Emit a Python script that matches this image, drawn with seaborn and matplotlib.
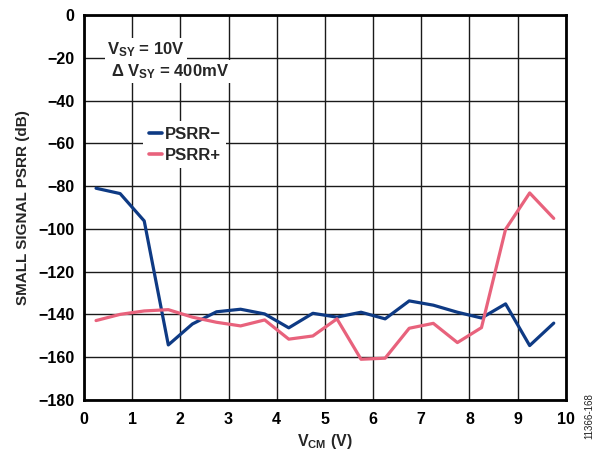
import matplotlib
matplotlib.use("Agg")
import matplotlib.pyplot as plt
import seaborn as sns
import pandas as pd

# Common-mode voltage sweep (V)
vcm = [0.25, 0.75, 1.25, 1.75, 2.25, 2.75, 3.25, 3.75, 4.25, 4.75,
       5.25, 5.75, 6.25, 6.75, 7.25, 7.75, 8.25, 8.75, 9.25, 9.75]

# Small-signal PSRR (dB)
psrr_minus = [-81.0, -83.5, -96.3, -154.3, -144.5, -138.8, -137.6, -139.8, -146.3, -139.5,
              -141.3, -139.0, -142.1, -133.7, -135.7, -139.0, -141.7, -135.1, -154.6, -144.1]
psrr_plus = [-142.9, -140.0, -138.4, -137.8, -141.3, -143.7, -145.4, -142.6, -151.6, -150.1,
             -142.1, -161.0, -160.5, -146.5, -144.2, -153.2, -146.2, -100.2, -83.2, -95.1]

series_names = ["PSRR\u2212", "PSRR+"]
series_colors = ["#0e3a84", "#e8627c"]

x_ticks = list(range(0, 11))
y_ticks = list(range(-180, 1, 20))

df = pd.DataFrame({
    "vcm": vcm * 2,
    "psrr": psrr_minus + psrr_plus,
    "series": [series_names[0]] * len(vcm) + [series_names[1]] * len(vcm),
})

sns.set_theme(style="white")
plt.rcParams["font.family"] = ["Liberation Sans", "DejaVu Sans"]
plt.rcParams["font.weight"] = "bold"
plt.rcParams["mathtext.fontset"] = "custom"
plt.rcParams["mathtext.rm"] = "Liberation Sans:bold"
plt.rcParams["mathtext.it"] = "Liberation Sans:bold"
plt.rcParams["mathtext.bf"] = "Liberation Sans:bold"
plt.rcParams["mathtext.default"] = "rm"

fs = 11.5

fig = plt.figure(figsize=(6.0, 4.57), dpi=100)
ax = fig.add_axes([0.140, 0.125, 0.803, 0.842])

sns.lineplot(data=df, x="vcm", y="psrr", hue="series",
             palette=dict(zip(series_names, series_colors)),
             linewidth=2.3, ax=ax, zorder=3)

ax.set_xlim(0, 10)
ax.set_ylim(-180, 0)
ax.set_xticks(x_ticks)
ax.set_yticks(y_ticks)
ax.set_xticklabels([str(t) for t in x_ticks], fontsize=fs, fontweight="bold")
ax.set_yticklabels([str(t).replace("-", "\u2212") for t in y_ticks],
                   fontsize=fs, fontweight="bold")
ax.tick_params(axis="x", length=0, pad=9, colors="black")
ax.tick_params(axis="y", length=0, pad=7, colors="black")

ax.grid(True, color="#1a1a1a", linewidth=1.0)
ax.set_axisbelow(True)
for sp in ax.spines.values():
    sp.set_visible(True)
    sp.set_color("black")
    sp.set_linewidth(2.0)

ax.set_xlabel(r"$V_{CM}$ (V)", fontsize=fs, fontweight="bold", labelpad=3)
ax.set_ylabel("SMALL SIGNAL PSRR (dB)", fontsize=fs - 0.5, fontweight="bold", labelpad=6)

# Supply condition note
ax.text(0.48, -16.0, r"$V_{SY}$ = 10V", fontsize=fs + 0.5, fontweight="bold",
        ha="left", va="center", zorder=4,
        bbox=dict(facecolor="white", edgecolor="none", pad=1.5))
ax.text(0.56, -26.5, r"$\Delta$ $V_{SY}$ = 400mV", fontsize=fs + 0.5, fontweight="bold",
        ha="left", va="center", zorder=4,
        bbox=dict(facecolor="white", edgecolor="none", pad=1.5))

leg = ax.legend(loc="upper left", bbox_to_anchor=(0.122, 0.725), frameon=True,
                fontsize=fs + 0.5, handlelength=0.8, handletextpad=0.15,
                labelspacing=0.35, borderpad=0.35, borderaxespad=0)
leg.get_frame().set_facecolor("white")
leg.get_frame().set_edgecolor("none")
leg.get_frame().set_alpha(1.0)
leg.set_zorder(5)
for t in leg.get_texts():
    t.set_fontweight("bold")
for h in leg.get_lines():
    h.set_linewidth(2.6)

fig.text(0.983, 0.09, "11366-168", rotation=90, fontsize=7, fontweight="normal",
         ha="center", va="center", color="#222222")

fig.savefig("out.png", dpi=100, facecolor="white")
